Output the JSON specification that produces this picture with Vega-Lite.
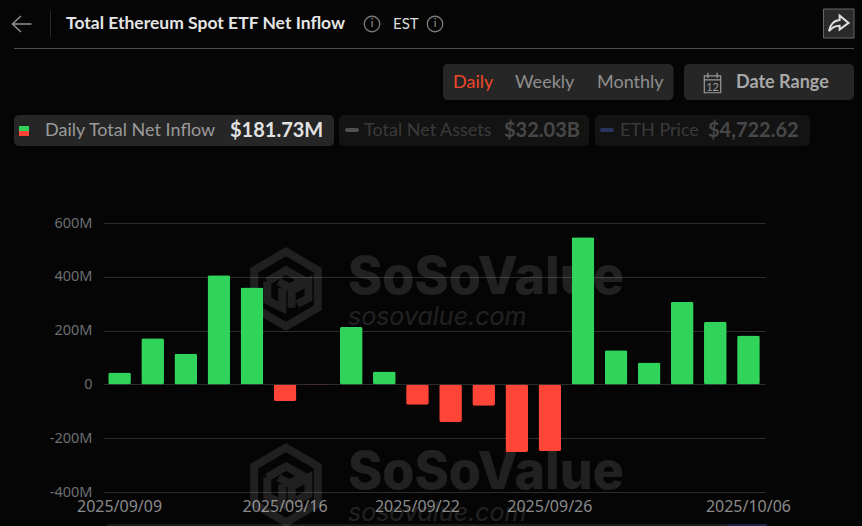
{
"$schema":"https://vega.github.io/schema/vega-lite/v6.json",
"autosize":{"type":"none"},
"width":662,"height":269,
"padding":{"left":103,"top":223,"right":97,"bottom":34},
"background":"#050505",
"config":{"view":{"stroke":null}},
"datasets":{
"rounded":[
{"item":"period panel","col":20,"col2":30,"row":7,"row2":10,"role":"panel"},
{"item":"date panel","col":31,"col2":40,"row":7,"row2":10,"role":"panel"},
{"item":"chip inflow","col":0,"col2":11,"row":11,"row2":17,"role":"panel"},
{"item":"chip assets","col":12,"col2":24,"row":11,"row2":17,"role":"chip_off"},
{"item":"chip price","col":25,"col2":37,"row":11,"row2":17,"role":"chip_off"},
{"item":"assets key","col":13,"col2":15,"row":13,"row2":15,"role":"key_assets"},
{"item":"price key","col":27,"col2":28,"row":13,"row2":15,"role":"key_price"}
],
"square":[
{"item":"header rule","col":0,"col2":40,"row":5,"row2":6,"role":"rule"},
{"item":"header divider","col":5,"col2":6,"row":1,"row2":3,"role":"divider"},
{"item":"inflow key up","col":1,"col2":3,"row":12,"row2":14,"role":"up"},
{"item":"inflow key down","col":1,"col2":3,"row":14,"row2":16,"role":"down"},
{"item":"strip","col":8,"col2":34,"row":24,"row2":25,"role":"strip"},
{"item":"strip end","col":34,"col2":36,"row":24,"row2":25,"role":"strip_end"}
]
},
"layer":[
{
"encoding":{
"x":{"field":"col","type":"quantitative","axis":null,"scale":{"nice":false,"zero":false,
"domain":[0,1,2,3,4,5,6,7,8,9,10,11,12,13,14,15,16,17,18,19,20,21,22,23,24,25,26,27,28,29,30,31,32,33,34,35,36,37,38,39,40],
"range":[-89,-84,-81,-74,-58,-53,-52,-37,4,127,183,231,236,242,245,256,261,269,290,332,340,350,401,412,486,492,494,497,511,517,570.5,581,605,609.5,624,633,664,707,720.5,735.5,751]}},
"y":{"field":"row","type":"quantitative","axis":null,"scale":{"nice":false,"zero":false,
"domain":[0,1,2,3,4,5,6,7,8,9,10,11,12,13,14,15,16,17,18,19,20,21,22,23,24,25],
"range":[-214,-212,-199,-186,-185,-175,-174,-159,-140,-135,-123,-108,-97,-95,-92,-91,-87,-77,55,66,94,250,262,290,301,303]}}
},
"layer":[
{"data":{"name":"rounded"},"mark":{"type":"rect","cornerRadius":5},
"encoding":{"x2":{"field":"col2"},"y2":{"field":"row2"},
"color":{"field":"role","type":"nominal","legend":null,"scale":{
"domain":["panel","chip_off","key_assets","key_price","rule","divider","up","down","strip","strip_end","title","active","muted","chip_label","chip_value","off_label","off_value","date","est"],
"range":["#262626","#131313","#505050","#28345c","#4c4c4c","#2a2a2a","#31d45b","#ff4438","#1b1b1b","#1c2644","#e4e4e4","#f0482a","#8f8f8f","#9a9a9a","#e2e2e2","#3a3a3a","#474747","#a8a8a8","#dcdcdc"]}}}},
{"data":{"name":"square"},"mark":{"type":"rect"},
"encoding":{"x2":{"field":"col2"},"y2":{"field":"row2"},"color":{"field":"role","type":"nominal","legend":null}}},
{"data":{"values":[{"item":"share box","col":38,"col2":40,"row":0,"row2":4}]},
"mark":{"type":"rect","fill":"#2a2a2a","stroke":"#666666","strokeWidth":1},
"encoding":{"x2":{"field":"col2"},"y2":{"field":"row2"}}},
{"data":{"values":[{"col":2,"row":2}]},"mark":{"type":"point","filled":false,"stroke":"#8f8f8f","strokeWidth":1.5,"opacity":1,"size":400,"shape":"M.95 0 L-.95 0 M-.1 -.8 L-.95 0 L-.1 .8"}},
{"data":{"values":[{"col":17,"row":2},{"col":19,"row":2}]},"mark":{"type":"point","filled":false,"stroke":"#7a7a7a","strokeWidth":1.3,"opacity":1,"size":240,"shape":"circle"}},
{"data":{"values":[{"col":39,"row":2}]},"mark":{"type":"point","filled":false,"stroke":"#dedede","strokeWidth":2,"opacity":1,"size":500,"shape":"M.1 -.75 L.9 -.1 L.1 .5 L.1 .15 C-.3 .15 -.6 .3 -.85 .65 C-.75 .05 -.4 -.3 .1 -.35 Z"}},
{"data":{"values":[{"col":33,"row":8}]},"mark":{"type":"point","filled":false,"stroke":"#9a9a9a","strokeWidth":1.2,"opacity":1,"size":420,"shape":"M-.8 -.7 H.8 V.95 H-.8 Z M-.8 -.3 H.8 M-.45 -1 V-.5 M.45 -1 V-.5"}},
{"data":{"values":[{"text":"i","col":17,"row":2},{"text":"i","col":19,"row":2},{"text":"12","col":33,"row":9}]},
"mark":{"type":"text","font":"Lato","fontSize":11,"fill":"#9a9a9a","align":"center","baseline":"middle"},"encoding":{"text":{"field":"text"}}},
{"data":{"values":[{"text":"Total Ethereum Spot ETF Net Inflow","col":7,"row":2,"role":"title"}]},
"mark":{"type":"text","font":"Lato","fontSize":17.5,"fontWeight":"bold","align":"left","baseline":"middle"},
"encoding":{"text":{"field":"text"},"color":{"field":"role","type":"nominal","legend":null}}},
{"data":{"values":[{"text":"EST","col":18,"row":2,"role":"est"}]},
"mark":{"type":"text","font":"Lato","fontSize":15,"align":"left","baseline":"middle"},
"encoding":{"text":{"field":"text"},"color":{"field":"role","type":"nominal","legend":null}}},
{"data":{"values":[
{"text":"Daily","col":21,"row":8,"role":"active"},
{"text":"Weekly","col":23,"row":8,"role":"muted"},
{"text":"Monthly","col":26,"row":8,"role":"muted"},
{"text":"Daily Total Net Inflow","col":4,"row":14,"role":"chip_label"},
{"text":"Total Net Assets","col":16,"row":14,"role":"off_label"},
{"text":"ETH Price","col":29,"row":14,"role":"off_label"}]},
"mark":{"type":"text","font":"Lato","fontSize":18,"align":"left","baseline":"middle"},
"encoding":{"text":{"field":"text"},"color":{"field":"role","type":"nominal","legend":null}}},
{"data":{"values":[
{"text":"$181.73M","col":9,"row":14,"role":"chip_value"},
{"text":"$32.03B","col":22,"row":14,"role":"off_value"},
{"text":"$4,722.62","col":32,"row":14,"role":"off_value"}]},
"mark":{"type":"text","font":"Lato","fontSize":20,"fontWeight":"bold","align":"left","baseline":"middle"},
"encoding":{"text":{"field":"text"},"color":{"field":"role","type":"nominal","legend":null}}},
{"data":{"values":[{"text":"Date Range","col":35,"row":8,"role":"date"}]},
"mark":{"type":"text","font":"Lato","fontSize":18,"fontWeight":"bold","align":"left","baseline":"middle"},
"encoding":{"text":{"field":"text"},"color":{"field":"role","type":"nominal","legend":null}}},
{"data":{"values":[{"col":10,"row":19},{"col":10,"row":22}]},
"mark":{"type":"point","filled":false,"stroke":"#ffffff","strokeWidth":8,"strokeOpacity":0.11,"opacity":1,"size":5600,"shape":"M0 -1 L.85 -.5 L.85 .5 L0 1 L-.85 .5 L-.85 -.5 Z M-.5 -.2 L0 -.5 L.45 -.25 L.1 -.03 L-.2 -.2 M-.5 -.2 V.3 L-.1 .5 V-.02 M.15 .5 V.05 L.6 -.2 V.25 L.3 .4"}},
{"data":{"values":[{"text":"SoSoValue","col":14,"row":18},{"text":"SoSoValue","col":14,"row":21}]},
"mark":{"type":"text","font":"Inter","fontSize":52,"fontWeight":800,"fill":"#ffffff","opacity":0.11,"align":"left","baseline":"middle"},"encoding":{"text":{"field":"text"}}},
{"data":{"values":[{"text":"sosovalue.com","col":14,"row":20},{"text":"sosovalue.com","col":14,"row":23}]},
"mark":{"type":"text","font":"Inter","fontSize":25,"fontStyle":"italic","fill":"#ffffff","opacity":0.11,"align":"left","baseline":"middle"},"encoding":{"text":{"field":"text"}}}
]
},
{
"data":{"values":[
{"date":"2025/09/09","net_inflow_musd":44.5},
{"date":"2025/09/10","net_inflow_musd":172},
{"date":"2025/09/11","net_inflow_musd":113.5},
{"date":"2025/09/12","net_inflow_musd":406},
{"date":"2025/09/15","net_inflow_musd":360},
{"date":"2025/09/16","net_inflow_musd":-61.7},
{"date":"2025/09/17","net_inflow_musd":-2},
{"date":"2025/09/18","net_inflow_musd":213},
{"date":"2025/09/19","net_inflow_musd":48},
{"date":"2025/09/22","net_inflow_musd":-75.9},
{"date":"2025/09/23","net_inflow_musd":-140},
{"date":"2025/09/24","net_inflow_musd":-79},
{"date":"2025/09/25","net_inflow_musd":-251},
{"date":"2025/09/26","net_inflow_musd":-248},
{"date":"2025/09/29","net_inflow_musd":547},
{"date":"2025/09/30","net_inflow_musd":127},
{"date":"2025/10/01","net_inflow_musd":81},
{"date":"2025/10/02","net_inflow_musd":307},
{"date":"2025/10/03","net_inflow_musd":233},
{"date":"2025/10/06","net_inflow_musd":181.73}
]},
"mark":{"type":"bar","cornerRadius":2},
"encoding":{
"x":{"field":"date","type":"nominal","sort":null,"title":null,
"scale":{"paddingInner":0.315,"paddingOuter":0.1575},
"axis":{"values":["2025/09/09","2025/09/16","2025/09/22","2025/09/26","2025/10/06"],"labelAngle":0,"labelOverlap":false,"labelBound":false,"labelFlush":false,"ticks":false,"domain":false,"grid":false,"labelFont":"Noto Sans","labelFontSize":16,"labelColor":"#8a8a8a","labelPadding":6}},
"y":{"field":"net_inflow_musd","type":"quantitative","title":null,
"scale":{"domain":[-400,600],"nice":false},
"axis":{"values":[-400,-200,0,200,400,600],"labelExpr":"datum.value === 0 ? '0' : datum.value + 'M'","ticks":false,"domain":false,"grid":true,"gridColor":"#2c2c2c","gridWidth":1,"labelFont":"Noto Sans","labelFontSize":14.5,"labelColor":"#6e6e73","labelPadding":11}},
"color":{"condition":{"test":"datum.net_inflow_musd < 0","value":"#ff4438"},"value":"#31d45b"}
}
}
],
"resolve":{"scale":{"x":"independent","y":"independent"}}
}
